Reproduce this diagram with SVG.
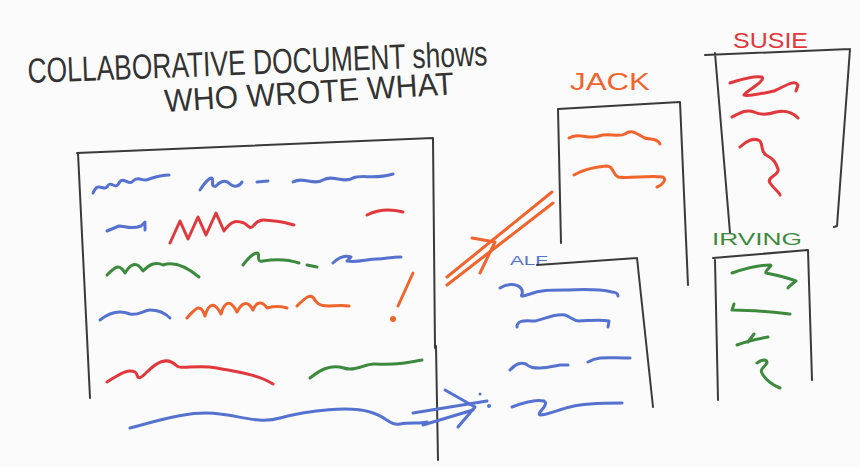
<svg xmlns="http://www.w3.org/2000/svg" width="860" height="467" viewBox="0 0 860 467">
<style>
.ink{fill:none;stroke:#3a3a3a;stroke-width:2;stroke-linecap:round;stroke-linejoin:round}
.b{fill:none;stroke:#5572cf;stroke-width:3;stroke-linecap:round;stroke-linejoin:round}
.r{fill:none;stroke:#e0383c;stroke-width:3;stroke-linecap:round;stroke-linejoin:round}
.g{fill:none;stroke:#3d8a3e;stroke-width:3;stroke-linecap:round;stroke-linejoin:round}
.o{fill:none;stroke:#f0642e;stroke-width:3;stroke-linecap:round;stroke-linejoin:round}
.t{font-family:"Liberation Sans",Arial,sans-serif;fill:#333}
.lab{font-family:"Liberation Sans",Arial,sans-serif;font-weight:normal}
</style>
<rect width="860" height="467" fill="#fbfbfb"/>
<g id="title">
<text class="t" x="28" y="83" font-size="35" textLength="460" lengthAdjust="spacingAndGlyphs" transform="rotate(-2.2 28 83)">COLLABORATIVE DOCUMENT shows</text>
<text class="t" x="165" y="112" font-size="32" textLength="290" lengthAdjust="spacingAndGlyphs" transform="rotate(-3.5 165 112)">WHO  WROTE  WHAT</text>
</g>
<g id="main-doc">
<path class="ink" d="M77,153 L433,138 M78,153 L90,398 M433,138 L435,348 M436,346 L438,460"/>
<path class="b" d="M93,193 c5,-12 10,-2 14,-6 c4,-8 8,4 12,-4 c4,-8 10,4 14,-2 c6,-6 10,2 16,-2 c6,-2 12,-4 20,-4"/>
<path class="b" d="M200,190 c4,-6 8,-12 12,-12 c2,2 -2,10 4,8 c6,-6 10,-6 14,-2 c4,4 10,2 12,-2 M257,182 l11,-1"/>
<path class="b" d="M293,182 c10,-6 20,4 30,-2 c10,-6 20,4 30,-2 c10,-4 20,2 40,-4"/>
<path class="b" d="M107,231 l12,-5 c6,0 12,4 22,0 l4,-4 v8"/>
<path class="r" d="M170,243 l10,-22 l8,18 l10,-22 l8,18 l10,-22 l8,18 c8,-12 14,-10 20,-8 c4,2 6,8 10,2 c6,-8 14,-4 20,-4 c6,0 12,2 20,4"/>
<path class="r" d="M367,215 c12,-6 24,-6 36,-3"/>
<path class="g" d="M107,275 c8,-8 12,-12 18,-2 c6,-10 12,-12 18,-2 c6,-6 12,-10 20,-6 c12,-4 24,2 36,12"/>
<path class="g" d="M243,265 c6,-8 10,-12 14,-12 c4,0 -2,10 6,8 c12,-2 24,-2 36,2 m8,2 l10,2"/>
<path class="b" d="M333,263 c6,-6 12,-8 18,-6 l-4,4 c10,2 20,-2 30,-2 c8,0 14,-2 24,-2"/>
<path class="b" d="M100,320 c10,-8 20,-10 30,-6 c8,2 14,-4 20,-4 c8,0 14,2 20,8"/>
<path class="o" d="M187,318 c10,-12 14,-14 18,-2 c4,-14 10,-14 16,-2 c4,-14 10,-14 16,-2 c6,-12 12,-10 16,-2 c4,-10 10,-8 14,-2 c8,-2 14,-2 20,0 m10,-2 c8,-8 14,-14 18,-6 c6,10 18,4 34,6"/>
<path class="o" d="M413,273 L398,306"/>
<circle cx="393" cy="319" r="3" fill="#f0642e"/>
<path class="r" d="M107,382 c10,-6 20,-14 28,-10 c4,2 0,12 12,0 c10,-10 20,-16 30,-6 c4,4 20,-2 40,2 c20,4 40,6 56,16"/>
<path class="g" d="M310,378 c10,-8 20,-14 34,-10 c10,4 20,-4 30,-4 c10,0 20,2 48,-4"/>
<path class="b" d="M130,428 c30,-8 60,-18 90,-14 c20,2 40,10 60,4 c30,-8 70,-12 90,-6 c16,4 20,14 30,12 c10,-2 20,0 27,-2"/>
</g>
<g id="jack">
<text class="lab" x="570" y="90" font-size="24" fill="#f0642e" textLength="80" lengthAdjust="spacingAndGlyphs">JACK</text>
<path class="ink" d="M558,109 L680,102 M558,109 L561,243 M680,102 L688,285"/>
<path class="o" d="M569,138 c10,-6 20,2 30,-2 c10,-4 18,2 26,-2 c8,-6 14,2 20,4 c6,2 12,0 15,6"/>
<path class="o" d="M574,175 c10,-6 20,-8 32,-9 c8,0 6,8 12,11 c10,2 30,-2 45,0 c4,2 0,8 -6,10"/>
</g>
<g id="susie">
<text class="lab" x="733" y="48" font-size="22" fill="#e0383c" textLength="75" lengthAdjust="spacingAndGlyphs">SUSIE</text>
<path class="ink" d="M705,55 L850,49 M715,53 L730,233 M850,49 L837,226 l-3,1"/>
<path class="r" d="M730,83 c10,-3 22,-8 32,-6 c4,4 -16,14 -18,18 c4,2 20,-2 30,-4 c10,-4 20,-12 24,-6 l-2,6"/>
<path class="r" d="M732,117 c8,-4 14,-8 22,-5 c8,4 16,2 22,0 c10,-2 16,0 22,6"/>
<path class="r" d="M740,147 c6,-6 14,-10 20,-6 c4,6 0,10 6,14 c8,4 10,8 12,14 c2,6 -12,8 -8,14 c4,6 10,10 10,12"/>
</g>
<g id="alf">
<text class="lab" x="510" y="265" font-size="12" fill="#5572cf" font-weight="bold" textLength="38" lengthAdjust="spacingAndGlyphs">ALF</text>
<path class="ink" d="M537,265 L637,258 M637,258 L653,407"/>
<path class="b" d="M500,288 c6,-4 18,-6 22,2 c2,6 -6,8 8,4 c10,-4 20,-4 34,-4 c14,0 30,-2 48,2 c4,0 6,2 6,4"/>
<path class="b" d="M517,327 c0,-8 10,-6 18,-6 c10,-2 20,-8 30,-6 c6,2 8,6 14,6 c8,0 20,-2 30,0 l-1,6"/>
<path class="b" d="M510,370 c6,-6 10,-8 16,-6 c4,4 8,4 14,4 c8,0 14,-2 20,-3 l8,0 M588,362 c10,-6 20,-4 42,-4"/>
<path class="b" d="M512,407 c10,-4 24,-8 32,-6 c6,4 -8,12 -4,14 c8,0 20,-6 30,-8 c14,-4 40,-4 52,-4"/>
</g>
<g id="irving">
<text class="lab" x="712" y="245" font-size="17" fill="#3d8a3e" textLength="90" lengthAdjust="spacingAndGlyphs">IRVING</text>
<path class="ink" d="M713,258 L808,250 M715,260 L718,400 M808,250 L812,380"/>
<path class="g" d="M732,273 c12,-4 26,-8 38,-8 c4,0 -6,6 -4,8 c10,2 20,4 30,8 c-2,2 -6,4 -8,7"/>
<path class="g" d="M732,310 l2,-6 M733,310 c20,0 38,2 57,4"/>
<path class="g" d="M737,345 c10,-4 20,-6 31,-8 M748,342 l6,-8"/>
<path class="g" d="M757,363 c6,-4 10,-4 10,0 c-4,6 -8,6 -4,12 c4,6 10,10 17,13"/>
</g>
<g id="connectors">
<g id="jack-to-main">
<path class="o" d="M447,277 L552,192 M447,285 L553,203"/>
<path class="o" d="M472,238 L495,242 L480,273"/>
</g>
<g id="alf-to-main">
<path class="b" d="M413,413 L487,401 M423,425 L473,410"/>
<path class="b" d="M445,390 L475,407 L458,427"/>
<circle cx="489" cy="406" r="2" fill="#5572cf"/>
<circle cx="480" cy="394" r="1.5" fill="#5572cf"/>
</g>
</g>
</svg>
